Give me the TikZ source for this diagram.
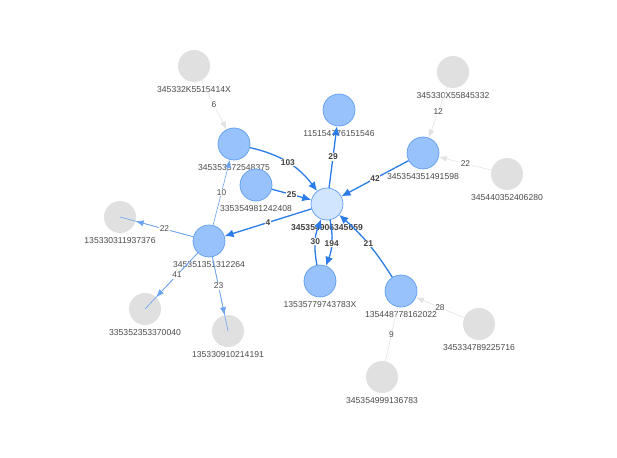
\documentclass[tikz,border=0pt]{standalone}
\usepackage{fontspec}
\setmainfont{Liberation Sans}
\usetikzlibrary{arrows.meta, positioning}
\definecolor{nodeblue}{HTML}{97C2FC}
\definecolor{edgeblue}{HTML}{2B7CE9}
\definecolor{hubblue}{HTML}{D2E5FF}
\definecolor{leafgray}{HTML}{E0E0E0}
\definecolor{faintgray}{HTML}{E2E2E2}
\definecolor{labelgray}{HTML}{4A4A4A}

\begin{document}
\begin{tikzpicture}[
    x=1pt, y=-1pt,
    acct/.style={circle, minimum size=32pt, inner sep=0pt, fill=nodeblue, draw=edgeblue!75, line width=0.7pt},
    hub/.style={acct, fill=hubblue},
    leaf/.style={circle, minimum size=32pt, inner sep=0pt, fill=leafgray},
    tag/.style={font=\fontsize{8.6}{10}\selectfont, text=labelgray, inner sep=0pt, label distance=4pt},
    flow/.style={-{Latex[length=9pt,width=8pt]}, edgeblue, line width=1.3pt},
    minor/.style={edgeblue!70, line width=0.6pt},
    faint/.style={faintgray, line width=0.6pt},
    tip/.style={-{Latex[length=8pt,width=6pt]}},
    amount/.style={font=\fontsize{8.4}{9}\selectfont\bfseries, text=black!75, fill=white, inner sep=0.6pt},
    thinamount/.style={font=\fontsize{8.4}{9}\selectfont, text=labelgray, fill=white, inner sep=0.6pt}
]
\useasboundingbox (0,0) rectangle (617,457);

% Outer accounts (grey)
\node[leaf, label={[tag]below:345332K5515414X}] (g1) at (194,66) {};
\node[leaf, label={[tag]below:345330X55845332}] (g2) at (453,72) {};
\node[leaf, label={[tag]below:345440352406280}] (g3) at (507,174) {};
\node[leaf, label={[tag]below:135330311937376}] (g4) at (120,217) {};
\node[leaf, label={[tag]below:335352353370040}] (g5) at (145,309) {};
\node[leaf, label={[tag]below:135330910214191}] (g6) at (228,331) {};
\node[leaf, label={[tag]below:345334789225716}] (g7) at (479,324) {};
\node[leaf, label={[tag]below:345354999136783}] (g8) at (382,377) {};

% Linked accounts (blue)
\node[acct, label={[tag]below:345353572548375}] (A) at (234,144) {};
\node[acct, label={[tag]below:335354981242408}] (B) at (256,185) {};
\node[acct, label={[tag]below:115154776151546}] (C) at (339,110) {};
\node[acct, label={[tag]below:345354351491598}] (D) at (423,153) {};
\node[acct, label={[tag]below:345351351312264}] (E) at (209,241) {};
\node[acct, label={[tag]below:13535779743783X}] (F) at (320,281) {};
\node[acct, label={[tag]below:135448778162022}] (G) at (401,291) {};
\node[hub, label={[tag, font=\fontsize{8.6}{10}\selectfont\bfseries, text=black!75]below:345354906345659}] (hub) at (327,204) {};

% Flows around the hub
\draw[flow] (A) to[bend left=20] node[amount] {103} (hub);
\draw[flow] (B) -- node[amount] {25} (hub);
\draw[flow] (hub) -- node[amount] {29} (C);
\draw[flow] (D) -- node[amount] {42} (hub);
\draw[flow] (hub) -- node[amount] {4} (E);
\draw[flow] (hub) to[bend left=16] node[amount] {194} (F);
\draw[flow] (F) to[bend left=16] node[amount] {30} (hub);
\draw[flow] (G) to[bend right=8] node[amount] {21} (hub);

% Flows out of 345351351312264
\draw[minor, tip] (E) -- node[thinamount] {10} (A);
\draw[minor] (E) -- (g4.center);
\draw[minor, tip] (E) -- node[thinamount] {22} (g4);
\draw[minor] (E) -- (g5.center);
\draw[minor, tip] (E) -- node[thinamount] {41} (g5);
\draw[minor] (E) -- (g6.center);
\draw[minor, tip] (E) -- node[thinamount] {23} (g6);

% Faint flows
\draw[faint, tip] (g1.center) -- node[thinamount, pos=0.61] {6} (A);
\draw[faint, tip] (g2.center) -- node[thinamount, pos=0.61] {12} (D);
\draw[faint, tip] (g3.center) -- node[thinamount, pos=0.61] {22} (D);
\draw[faint, tip] (g7.center) -- node[thinamount, pos=0.62] {28} (G);
\draw[faint] (G) -- node[thinamount, pos=0.39] {9} (g8.center);
\end{tikzpicture}
\end{document}
